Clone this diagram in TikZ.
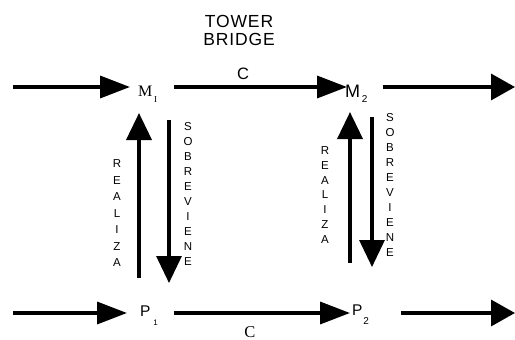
\documentclass[tikz,border=0pt]{standalone}
\usepackage{fontspec}
\setmainfont{Liberation Sans}
\newfontfamily\serifface{Liberation Serif}
\usetikzlibrary{arrows.meta}

\begin{document}
\begin{tikzpicture}[x=1pt,y=-1pt,
  harr/.style={line width=3.5pt,-{Triangle[length=30pt,width=22pt]}},
  earr/.style={line width=3.5pt,-{Triangle[length=24pt,width=26pt]}},
  varr/.style={line width=3.8pt,-{Triangle[length=27pt,width=25pt]}},
  lbl/.style={inner sep=0pt,outer sep=0pt},
  vtxt/.style={inner sep=0pt,outer sep=0pt,align=center}]
\useasboundingbox (0,0) rectangle (515,340);

% title
\node[lbl,align=center,font=\fontsize{17.5}{18}\selectfont\addfontfeature{LetterSpace=5}] (title) at (239,30) {TOWER\\BRIDGE};

% states and their nodes
\node[lbl,anchor=base west,font=\serifface\fontsize{16}{16}\selectfont] (M1) at (138,96)
  {M\kern2pt\raisebox{-6pt}{\fontsize{9}{9}\selectfont I}};
\node[lbl,anchor=base west,font=\fontsize{18}{18}\selectfont] (M2) at (345,97)
  {M\kern2pt\raisebox{-5pt}{\fontsize{10}{10}\selectfont 2}};
\node[lbl,anchor=base west,font=\fontsize{15.5}{15}\selectfont] (P1) at (140,316)
  {P\kern3pt\raisebox{-9pt}{\fontsize{8}{8}\selectfont 1}};
\node[lbl,anchor=base west,font=\fontsize{15.5}{15}\selectfont] (P2) at (352,315)
  {P\kern1pt\raisebox{-9pt}{\fontsize{10}{10}\selectfont 2}};

% free ends of the horizontal flows
\coordinate (inM) at (13,87);
\coordinate (outM) at (515,87);
\coordinate (inP) at (13,313);
\coordinate (outP) at (515,313);

% horizontal flows
\draw[harr,shorten >=8pt] (inM) -- (inM -| M1.west);
\draw[harr,shorten <=17pt,shorten >=-2pt] (M1.east |- inM) -- (M2.west |- inM);
\draw[earr,shorten <=15pt] (M2.east |- outM) -- (outM);
\draw[harr,shorten >=13pt] (inP) -- (inP -| P1.west);
\draw[harr,shorten <=16pt,shorten >=2pt] (P1.east |- inP) -- (P2.west |- inP);
\draw[earr,shorten <=32pt] (P2.east |- outP) -- (outP);

% C labels
\node[lbl,font=\fontsize{16.5}{16}\selectfont] (c1) at (243,74) {C};
\node[lbl,font=\serifface\fontsize{16.5}{16}\selectfont] (c2) at (250,332) {C};

% ends of the vertical flows
\coordinate (ra1) at (139,278); \coordinate (rb1) at (139,113);
\coordinate (sa1) at (169,120); \coordinate (sb1) at (169,283);
\coordinate (ra2) at (350,263); \coordinate (rb2) at (350,112);
\coordinate (sa2) at (372,117); \coordinate (sb2) at (372,267);

\draw[varr] (ra1) -- (rb1);
\draw[varr,line width=3.2pt] (sa1) -- (sb1);
\draw[varr] (ra2) -- (rb2);
\draw[varr,line width=3.2pt] (sa2) -- (sb2);

% vertical labels
\node[vtxt,font=\fontsize{11.5}{16.5}\selectfont] (re1) at (117,213.5) {R\\E\\A\\L\\I\\Z\\A};
\node[vtxt,font=\fontsize{11.5}{14.9}\selectfont] (so1) at (188,194) {S\\O\\B\\R\\E\\V\\I\\E\\N\\E};
\node[vtxt,font=\fontsize{11.5}{14.7}\selectfont] (re2) at (325,195) {R\\E\\A\\L\\I\\Z\\A};
\node[vtxt,font=\fontsize{11.5}{15.1}\selectfont] (so2) at (390,185) {S\\O\\B\\R\\E\\V\\I\\E\\N\\E};
\end{tikzpicture}
\end{document}
